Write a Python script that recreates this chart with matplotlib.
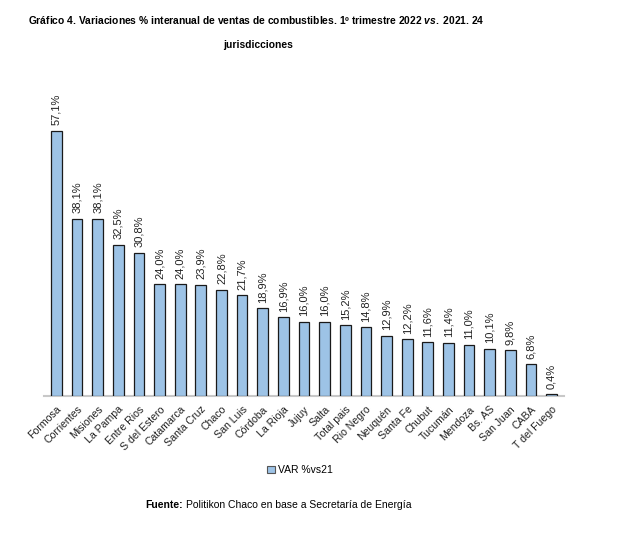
import matplotlib
matplotlib.use("Agg")
import matplotlib.pyplot as plt
from matplotlib.patches import Patch

# Data
jurisdicciones = ["Formosa", "Corrientes", "Misiones", "La Pampa", "Entre Rios",
                  "S del Estero", "Catamarca", "Santa Cruz", "Chaco", "San Luis",
                  "Córdoba", "La Rioja", "Jujuy", "Salta", "Total pais",
                  "Rio Negro", "Neuquén", "Santa Fe", "Chubut", "Tucumán",
                  "Mendoza", "Bs. AS", "San Juan", "CABA", "T del Fuego"]
var_vs21 = [57.1, 38.1, 38.1, 32.5, 30.8, 24.0, 24.0, 23.9, 22.8, 21.7,
            18.9, 16.9, 16.0, 16.0, 15.2, 14.8, 12.9, 12.2, 11.6, 11.4,
            11.0, 10.1, 9.8, 6.8, 0.4]

plt.rcParams["font.family"] = ["Liberation Sans", "DejaVu Sans"]
plt.rcParams["mathtext.fontset"] = "custom"
plt.rcParams["mathtext.it"] = "Liberation Sans:italic:bold"
plt.rcParams["mathtext.rm"] = "Liberation Sans:bold"

fig = plt.figure(figsize=(6.25, 5.35), dpi=100)
ax = fig.add_axes([44 / 625, 139 / 535, 520 / 625, 302 / 535])

x = list(range(len(jurisdicciones)))
bar_color = "#9dc3e6"
ax.bar(x, var_vs21, width=0.52, color=bar_color, edgecolor="#1a1a1a", linewidth=0.9, zorder=3)

# value labels above each bar
for xi, v in zip(x, var_vs21):
    ax.text(xi, v + 1.2, f"{v:.1f}%".replace(".", ","), rotation=90,
            ha="center", va="bottom", fontsize=8, color="#222222")

ax.set_xlim(-0.6, len(x) - 0.4)
ax.set_ylim(0, 65)
ax.set_yticks([])
for s in ["top", "right", "left"]:
    ax.spines[s].set_visible(False)
ax.spines["bottom"].set_color("#c8c8c8")
ax.spines["bottom"].set_linewidth(1.5)
ax.set_xticks(x)
ax.set_xticklabels(jurisdicciones, rotation=45, ha="right", va="top",
                   rotation_mode="anchor", fontsize=7.6, color="#222222")
ax.tick_params(axis="x", length=0, pad=6)

handle = Patch(facecolor=bar_color, edgecolor="#555555", linewidth=0.8)
fig.legend([handle], ["VAR %vs21"], loc="center", bbox_to_anchor=(300 / 625, 1 - 470 / 535),
           frameon=False, fontsize=7.5, handlelength=0.7, handleheight=0.7, handletextpad=0.3)

fig.text(256 / 625, 1 - 20 / 535,
         r"Gráfico 4. Variaciones % interanual de ventas de combustibles. 1º trimestre 2022 $\mathit{vs.}$ 2021. 24",
         ha="center", va="center", fontsize=7.4, fontweight="bold")
fig.text(258 / 625, 1 - 45 / 535, "jurisdicciones", ha="center", va="center",
         fontsize=7.4, fontweight="bold")

t1 = fig.text(145 / 625, 1 - 505 / 535, "Fuente:", ha="left", va="center",
              fontsize=7.5, fontweight="bold")
fig.canvas.draw()
bb = t1.get_window_extent()
fig.text((bb.x1 + 3) / 625, 1 - 505 / 535, "Politikon Chaco en base a Secretaría de Energía",
         ha="left", va="center", fontsize=7.5)

fig.savefig("out.png", dpi=100)
